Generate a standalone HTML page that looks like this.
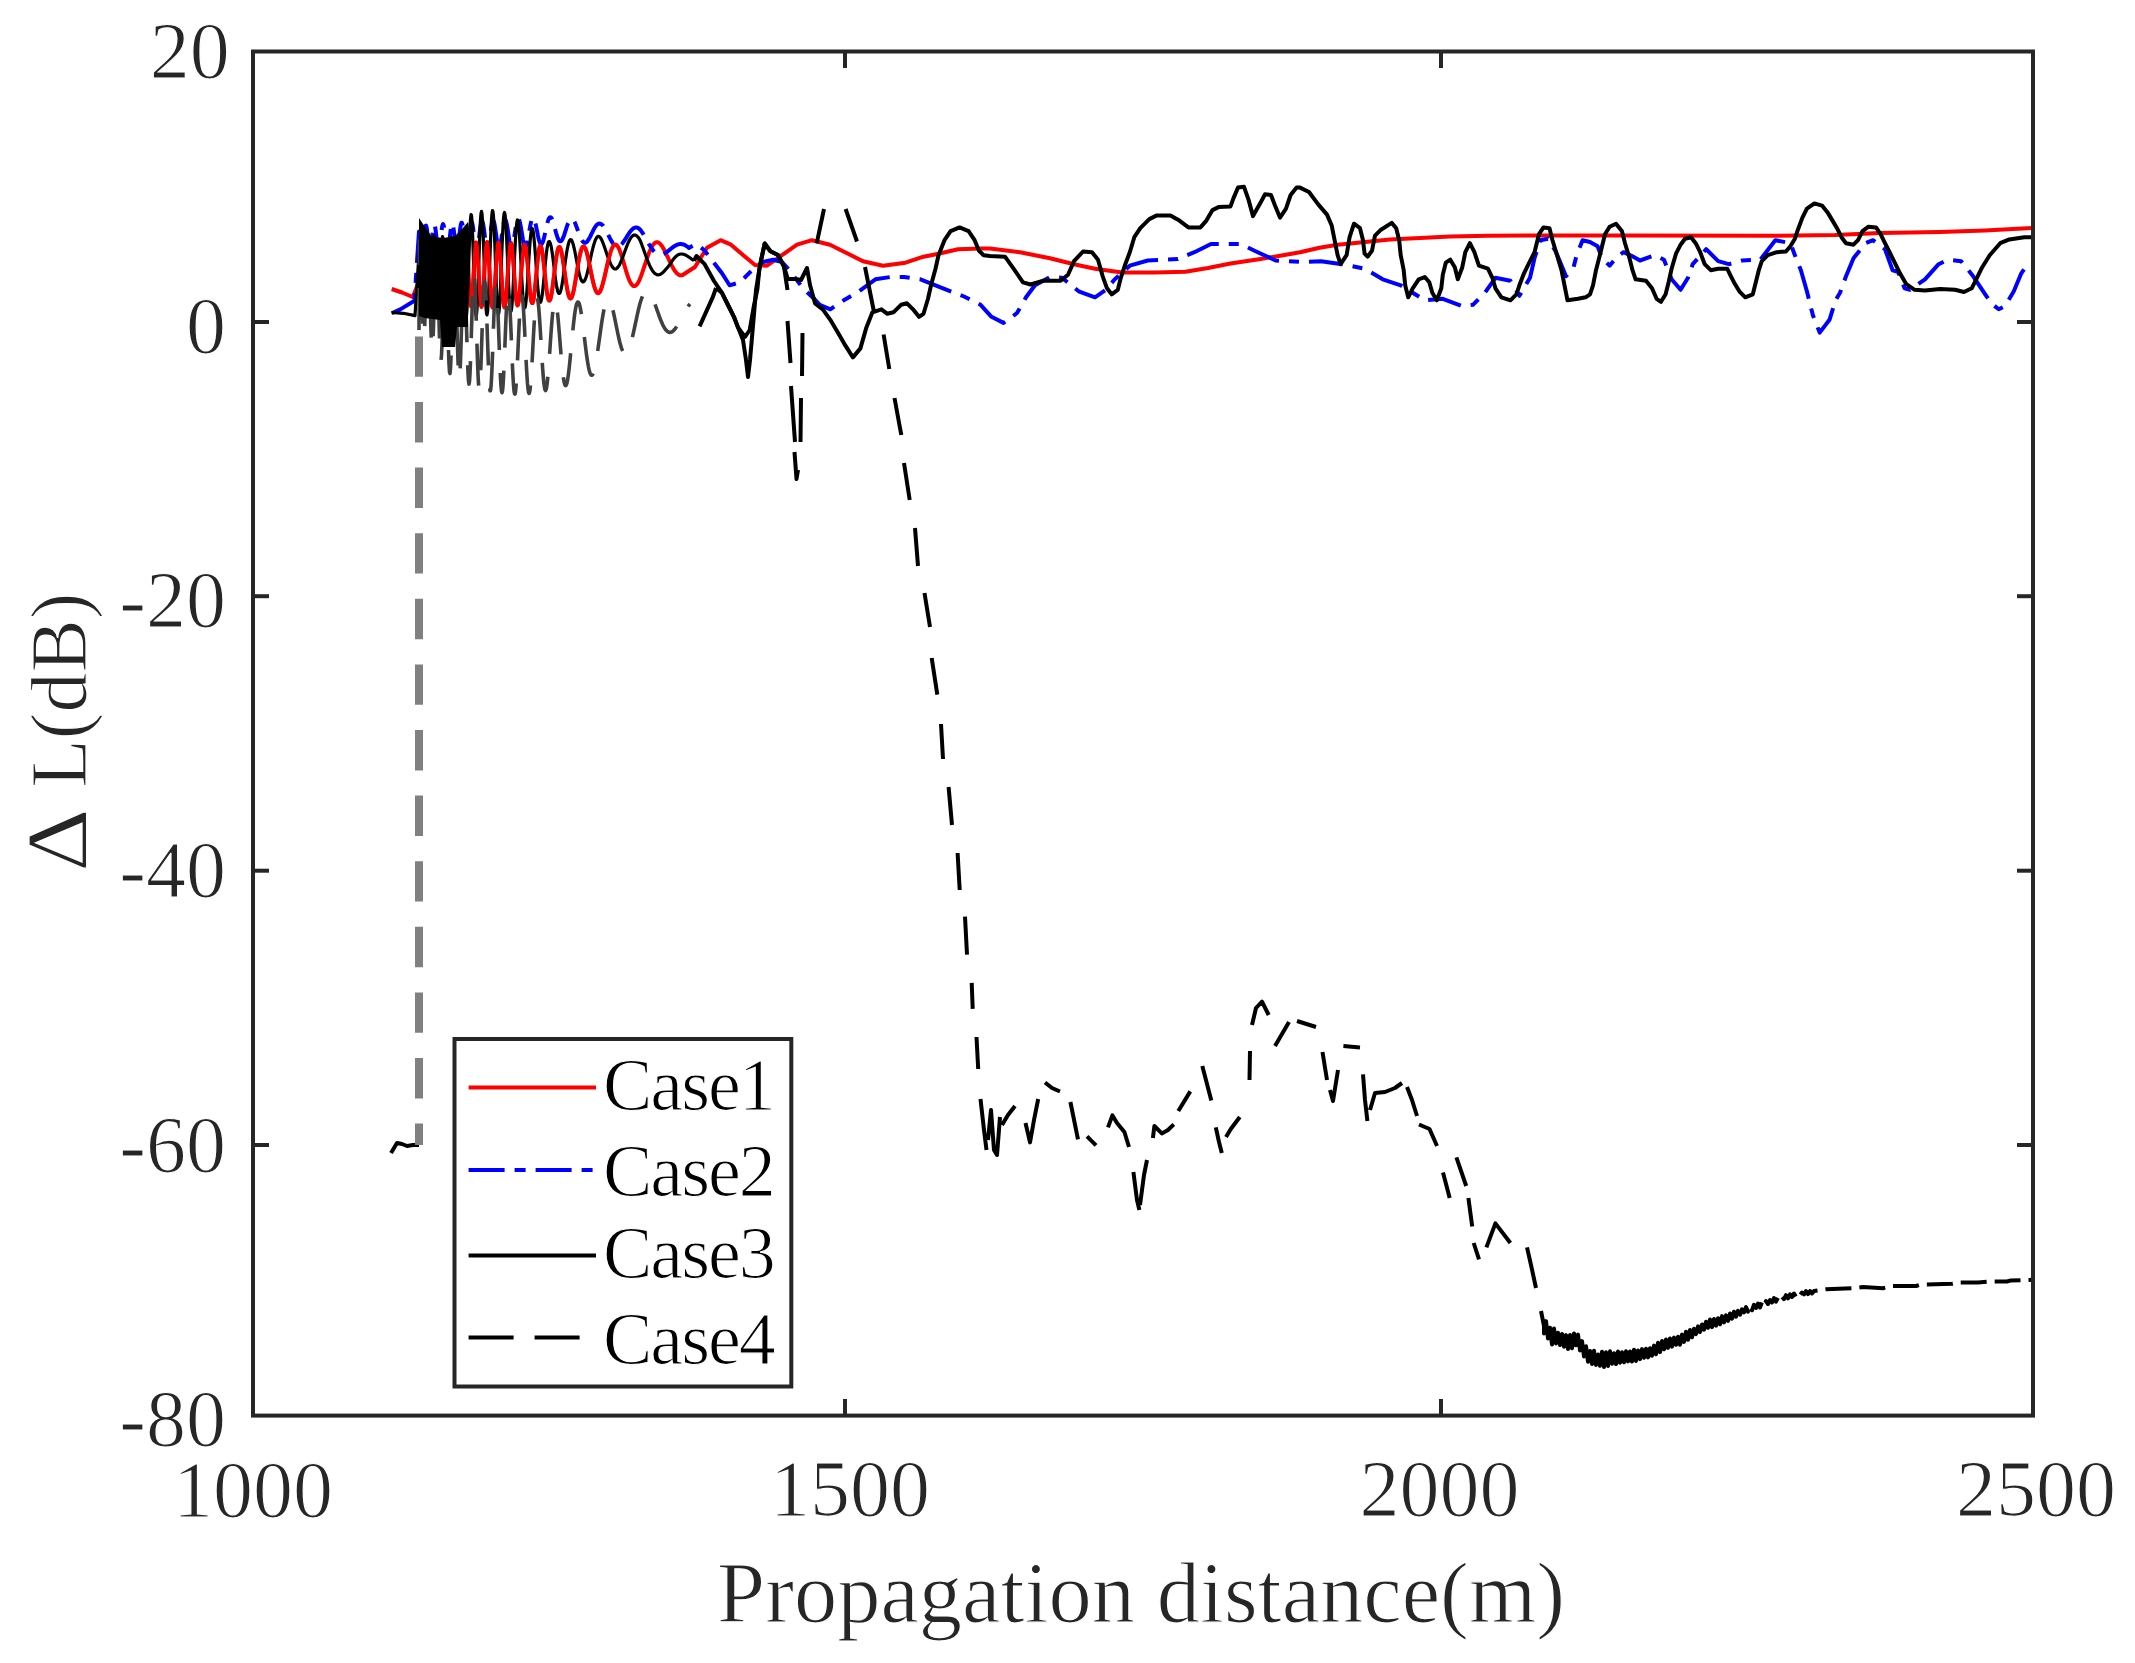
<!DOCTYPE html>
<html><head><meta charset="utf-8"><style>
html,body{margin:0;padding:0;background:#fff;}
body{width:2135px;height:1663px;overflow:hidden;}
svg{display:block;}
text{font-family:"Liberation Serif","Times New Roman",serif;fill:#262626;stroke:#fff;stroke-width:1.2px;paint-order:fill stroke;}
.lg text{fill:#000;}
</style></head><body>
<svg width="2135" height="1663" viewBox="0 0 2135 1663">
<rect x="0" y="0" width="2135" height="1663" fill="#fff"/>
<g clip-path="url(#clipax)">
<path d="M391.7 289.0L402.0 292.5L412.8 297.0L419.0 281.4L419.5 269.7L420.0 258.6L420.5 249.7L421.0 244.2L421.5 243.1L422.0 246.4L422.5 253.7L423.0 263.8L423.5 275.3L424.0 286.4L424.5 295.6L425.0 301.5L425.5 303.4L426.0 300.9L426.5 294.5L427.0 285.1L427.5 274.0L428.0 262.8L428.5 253.1L429.0 246.2L429.5 243.0L430.0 244.0L430.5 249.1L431.0 257.4L431.5 267.9L432.0 279.1L432.5 289.5L433.0 297.8L433.5 302.7L434.0 303.8L434.5 300.9L435.0 294.3L435.5 285.0L436.0 274.2L436.5 263.3L437.0 253.7L437.5 246.7L438.0 243.1L438.5 243.4L439.0 247.5L439.5 254.9L440.0 264.6L440.5 275.5L441.0 286.1L441.5 295.1L442.0 301.4L442.5 304.3L443.0 303.5L443.5 298.9L444.0 291.4L444.5 281.6L445.0 270.9L445.5 260.6L446.0 251.8L446.5 245.6L447.0 242.8L447.5 243.6L448.0 247.9L448.5 255.3L449.0 264.8L449.5 275.3L450.0 285.7L450.5 294.6L451.0 301.2L451.5 304.6L452.0 304.5L452.5 301.0L453.0 294.4L453.5 285.5L454.0 275.3L454.5 265.0L455.0 255.6L455.5 248.3L456.0 243.8L456.5 242.6L457.0 244.8L457.5 250.2L458.0 258.1L458.5 267.8L459.0 278.1L459.5 287.9L460.0 296.3L460.5 302.3L461.0 305.3L461.5 305.0L462.0 301.5L462.5 295.2L463.0 286.6L463.5 276.7L464.0 266.6L464.5 257.3L465.0 249.7L465.5 244.6L466.0 242.5L466.5 243.5L467.0 247.7L467.5 254.5L468.0 263.3L468.5 273.2L469.0 283.1L469.5 292.2L470.0 299.5L470.5 304.3L471.0 306.2L471.5 305.0L472.0 300.9L472.5 294.2L473.0 285.7L473.5 276.1L474.0 266.4L474.5 257.5L475.0 250.1L475.5 244.9L476.0 242.5L476.5 242.9L477.0 246.2L477.5 252.0L478.0 259.8L478.5 268.8L479.0 278.3L479.5 287.5L480.0 295.6L480.5 301.8L481.0 305.6L481.5 306.9L482.0 305.3L482.5 301.2L483.0 294.9L483.5 286.9L484.0 277.9L484.5 268.7L485.0 259.9L485.5 252.4L486.0 246.7L486.5 243.2L487.0 242.2L487.5 243.8L488.0 247.8L488.5 253.9L489.0 261.6L489.5 270.3L490.0 279.4L490.5 288.0L491.0 295.7L491.5 301.7L492.0 305.8L492.5 307.5L493.0 306.8L493.5 303.7L494.0 298.5L494.5 291.7L495.0 283.6L495.5 274.9L496.0 266.2L496.5 258.1L497.0 251.3L497.5 246.1L498.0 242.9L498.5 242.0L499.0 243.4L499.5 246.9L500.0 252.4L500.5 259.4L501.0 267.4L501.5 275.8L502.0 284.1L502.5 291.8L503.0 298.3L503.5 303.2L504.0 306.3L504.5 307.3L505.0 306.3L505.5 303.4L506.0 298.7L506.5 292.5L507.0 285.3L507.5 277.6L508.0 269.7L508.5 262.2L509.0 255.5L509.5 250.0L510.0 245.9L510.5 243.6L511.0 243.0L511.5 244.3L512.0 247.3L512.5 251.8L513.0 257.5L513.5 264.2L514.0 271.3L514.5 278.6L515.0 285.6L515.5 292.0L516.0 297.4L516.5 301.5L517.0 304.2L517.5 305.4L518.0 304.9L518.5 302.8L519.0 299.3L519.5 294.6L520.0 288.9L520.5 282.6L521.0 275.8L521.5 269.1L522.0 262.7L522.5 256.9L523.0 252.0L523.5 248.1L524.0 245.6L524.5 244.4L525.0 244.5L525.5 246.0L526.0 248.8L526.5 252.7L527.0 257.5L527.5 262.9L528.0 268.9L528.5 275.0L529.0 281.0L529.5 286.6L530.0 291.8L530.5 296.1L531.0 299.5L531.5 301.8L532.0 303.0L532.5 303.1L533.0 302.0L533.5 299.8L534.0 296.6L534.5 292.6L535.0 287.9L535.5 282.7L536.0 277.3L536.5 271.8L537.0 266.3L537.5 261.3L538.0 256.7L538.5 252.7L539.0 249.6L539.5 247.3L540.0 246.0L540.5 245.7L541.0 246.3L541.5 247.9L542.0 250.3L542.5 253.5L543.0 257.2L543.5 261.5L544.0 266.1L544.5 270.9L545.0 275.8L545.5 280.5L546.0 285.0L546.5 289.1L547.0 292.7L547.5 295.7L548.0 298.0L548.5 299.6L549.0 300.5L549.5 300.6L550.0 300.0L550.5 298.7L551.0 296.7L551.5 294.1L552.0 291.0L552.5 287.5L553.0 283.6L553.5 279.5L554.0 275.3L554.5 271.1L555.0 267.0L555.5 263.0L556.0 259.4L556.5 256.1L557.0 253.2L557.5 250.8L558.0 249.0L558.5 247.7L559.0 247.1L559.5 247.0L560.0 247.5L560.5 248.5L561.0 250.1L561.5 252.1L562.0 254.6L562.5 257.5L563.0 260.6L563.5 264.0L564.0 267.5L564.5 271.1L565.0 274.7L565.5 278.3L566.0 281.7L566.5 284.9L567.0 287.9L567.5 290.6L568.0 293.0L568.5 294.9L569.0 296.5L569.5 297.6L570.0 298.3L570.5 298.6L571.0 298.3L571.5 297.7L572.0 296.6L572.5 295.2L573.0 293.4L573.5 291.3L574.0 288.9L574.5 286.2L575.0 283.4L575.5 280.4L576.0 277.4L576.5 274.2L577.0 271.1L577.5 268.0L578.0 265.0L578.5 262.1L579.0 259.4L579.5 256.8L580.0 254.5L580.5 252.5L581.0 250.7L581.5 249.2L582.0 248.1L582.5 247.2L583.0 246.7L583.5 246.5L584.0 246.6L584.5 247.1L585.0 247.8L585.5 248.8L586.0 250.1L586.5 251.6L587.0 253.4L587.5 255.4L588.0 257.5L588.5 259.7L589.0 262.1L589.5 264.6L590.0 267.1L590.5 269.6L591.0 272.1L591.5 274.6L592.0 277.0L592.5 279.3L593.0 281.5L593.5 283.6L594.0 285.5L594.5 287.2L595.0 288.7L595.5 290.0L596.0 291.1L596.5 292.0L597.0 292.6L597.5 293.0L598.0 293.2L598.5 293.1L599.0 292.8L599.5 292.2L600.0 291.5L600.5 290.5L601.0 289.4L601.5 288.0L602.0 286.5L602.5 284.8L603.0 283.0L603.5 281.1L604.0 279.1L604.5 277.0L605.0 274.8L605.5 272.7L606.0 270.4L606.5 268.2L607.0 266.0L607.5 263.8L608.0 261.7L608.5 259.6L609.0 257.7L609.5 255.8L610.0 254.0L610.5 252.4L611.0 250.9L611.5 249.5L612.0 248.3L612.5 247.3L613.0 246.4L613.5 245.7L614.0 245.1L614.5 244.8L615.0 244.6L615.5 244.5L616.0 244.7L616.5 245.0L617.0 245.5L617.5 246.1L618.0 246.8L618.5 247.7L619.0 248.8L619.5 249.9L620.0 251.2L620.5 252.6L621.0 254.0L621.5 255.5L622.0 257.1L622.5 258.8L623.0 260.4L623.5 262.1L624.0 263.9L624.5 265.6L625.0 267.3L625.5 269.0L626.0 270.7L626.5 272.3L627.0 273.9L627.5 275.4L628.0 276.8L628.5 278.2L629.0 279.4L629.5 280.6L630.0 281.7L630.5 282.6L631.0 283.5L631.5 284.2L632.0 284.8L632.5 285.3L633.0 285.7L633.5 286.0L634.0 286.1L634.5 286.1L635.0 285.9L635.5 285.7L636.0 285.3L636.5 284.8L637.0 284.3L637.5 283.6L638.0 282.8L638.5 281.9L639.0 280.9L639.5 279.8L640.0 278.6L640.5 277.4L641.0 276.1L641.5 274.7L642.0 273.3L642.5 271.9L643.0 270.4L643.5 268.9L644.0 267.4L644.5 265.9L645.0 264.3L645.5 262.8L646.0 261.3L646.5 259.8L647.0 258.3L647.5 256.9L648.0 255.5L648.5 254.2L649.0 252.9L649.5 251.6L650.0 250.5L650.5 249.3L651.0 248.3L651.5 247.3L652.0 246.5L652.5 245.6L653.0 244.9L653.5 244.3L654.0 243.7L654.5 243.3L655.0 242.9L655.5 242.6L656.0 242.4L656.5 242.2L657.0 242.2L657.5 242.3L658.0 242.4L658.5 242.6L659.0 242.9L659.5 243.3L660.0 243.7L660.5 244.2L661.0 244.8L661.5 245.5L662.0 246.2L662.5 246.9L663.0 247.7L663.5 248.6L664.0 249.5L664.5 250.5L665.0 251.4L665.5 252.4L666.0 253.5L666.5 254.5L667.0 255.6L667.5 256.6L668.0 257.7L668.5 258.8L669.0 259.9L669.5 260.9L670.0 262.0L670.5 263.0L671.0 264.1L671.5 265.1L672.0 266.0L672.5 266.9L673.0 267.8L673.5 268.7L674.0 269.5L674.5 270.3L675.0 271.0L675.5 271.7L676.0 272.3L676.5 272.9L677.0 273.4L677.5 273.8L678.0 274.2L678.5 274.6L679.0 274.9L679.5 275.1L680.0 275.2L680.5 275.3L681.0 275.3L681.5 275.3L682.0 275.2L682.5 275.1L683.0 274.9L683.0 274.8L695.0 267.0L707.0 247.7L720.6 240.2L731.0 244.7L743.0 255.0L755.0 265.0L767.0 265.7L782.0 255.2L797.0 244.7L812.0 240.2L830.0 244.7L845.0 252.2L863.0 261.2L883.0 265.7L905.5 262.7L923.5 256.7L938.5 253.7L958.0 249.2L980.6 248.5L990.0 248.5L1020.0 252.2L1050.0 258.2L1074.0 264.2L1095.0 268.7L1122.0 272.5L1155.0 272.5L1185.4 271.7L1208.0 268.0L1230.5 263.5L1260.6 259.0L1283.0 255.2L1300.0 252.2L1319.5 247.7L1337.6 244.7L1360.0 242.4L1390.0 239.4L1420.0 238.0L1450.0 236.4L1488.0 235.7L1540.0 235.4L1620.0 235.4L1775.0 235.7L1835.0 235.0L1880.0 233.0L1940.0 232.0L1985.0 230.4L2027.0 228.2L2035.0 228.0" fill="none" stroke="#ff0000" stroke-width="4" stroke-linejoin="round"/>
<path d="M391.7 313.3L400.3 309.4L414.4 300.8L419.0 231.4L419.5 235.7L420.0 240.4L420.5 244.7L421.0 248.0L421.5 249.8L422.0 249.8L422.5 248.1L423.0 244.8L423.5 240.6L424.0 235.9L424.5 231.5L425.0 228.0L425.5 225.9L426.0 225.5L426.5 226.9L427.0 229.7L427.5 233.7L428.0 238.3L428.5 242.7L429.0 246.5L429.5 249.0L430.0 250.0L430.5 249.2L431.0 246.9L431.5 243.3L432.0 238.9L432.5 234.3L433.0 230.1L433.5 226.9L434.0 225.1L434.5 224.9L435.0 226.4L435.5 229.3L436.0 233.3L436.5 237.8L437.0 242.2L437.5 246.0L438.0 248.7L438.5 249.9L439.0 249.6L439.5 247.6L440.0 244.3L440.5 240.2L441.0 235.6L441.5 231.3L442.0 227.6L442.5 225.1L443.0 224.1L443.5 224.7L444.0 226.8L444.5 230.1L445.0 234.2L445.5 238.7L446.0 243.0L446.5 246.6L447.0 249.0L447.5 250.0L448.0 249.4L448.5 247.4L449.0 244.2L449.5 240.1L450.0 235.6L450.5 231.2L451.0 227.5L451.5 224.8L452.0 223.5L452.5 223.7L453.0 225.3L453.5 228.2L454.0 232.1L454.5 236.5L455.0 240.8L455.5 244.8L456.0 247.8L456.5 249.6L457.0 250.0L457.5 248.9L458.0 246.4L458.5 242.9L459.0 238.7L459.5 234.3L460.0 230.0L460.5 226.5L461.0 224.0L461.5 222.7L462.0 222.9L462.5 224.5L463.0 227.4L463.5 231.1L464.0 235.4L464.5 239.8L465.0 243.8L465.5 247.0L466.0 249.2L466.5 250.0L467.0 249.4L467.5 247.5L468.0 244.5L468.5 240.6L469.0 236.3L469.5 231.9L470.0 228.0L470.5 224.8L471.0 222.7L471.5 221.9L472.0 222.4L472.5 224.3L473.0 227.2L473.5 230.9L474.0 235.0L474.5 239.2L475.0 243.1L475.5 246.3L476.0 248.5L476.5 249.5L477.0 249.3L477.5 247.8L478.0 245.3L478.5 241.9L479.0 237.9L479.5 233.7L480.0 229.7L480.5 226.2L481.0 223.5L481.5 221.8L482.0 221.2L482.5 221.8L483.0 223.5L483.5 226.2L484.0 229.6L484.5 233.4L485.0 237.4L485.5 241.1L486.0 244.4L486.5 246.8L487.0 248.4L487.5 248.8L488.0 248.2L488.5 246.5L489.0 243.9L489.5 240.6L490.0 236.9L490.5 233.0L491.0 229.2L491.5 225.9L492.0 223.2L492.5 221.4L493.0 220.5L493.5 220.7L494.0 221.9L494.5 224.0L495.0 226.8L495.5 230.2L496.0 233.8L496.5 237.5L497.0 240.9L497.5 243.9L498.0 246.2L498.5 247.6L499.0 248.1L499.5 247.6L500.0 246.2L500.5 243.9L501.0 241.0L501.5 237.7L502.0 234.1L502.5 230.5L503.0 227.1L503.5 224.2L504.0 221.9L504.5 220.4L505.0 219.7L505.5 219.9L506.0 220.9L506.5 222.8L507.0 225.2L507.5 228.2L508.0 231.5L508.5 234.9L509.0 238.2L509.5 241.2L510.0 243.7L510.5 245.6L511.0 246.8L511.5 247.2L512.0 246.9L512.5 245.7L513.0 243.9L513.5 241.5L514.0 238.6L514.5 235.4L515.0 232.1L515.5 228.9L516.0 225.9L516.5 223.3L517.0 221.2L517.5 219.7L518.0 218.9L518.5 218.8L519.0 219.5L519.5 220.8L520.0 222.7L520.5 225.1L521.0 227.8L521.5 230.8L522.0 233.9L522.5 236.8L523.0 239.6L523.5 242.0L524.0 243.9L524.5 245.3L525.0 246.1L525.5 246.3L526.0 245.8L526.5 244.8L527.0 243.2L527.5 241.1L528.0 238.6L528.5 235.9L529.0 233.0L529.5 230.1L530.0 227.3L530.5 224.7L531.0 222.4L531.5 220.5L532.0 219.1L532.5 218.2L533.0 217.9L533.5 218.1L534.0 218.8L534.5 220.0L535.0 221.6L535.5 223.6L536.0 225.9L536.5 228.3L537.0 230.9L537.5 233.4L538.0 235.9L538.5 238.1L539.0 240.1L539.5 241.7L540.0 243.0L540.5 243.8L541.0 244.2L541.5 244.1L542.0 243.6L542.5 242.7L543.0 241.4L543.5 239.7L544.0 237.8L544.5 235.7L545.0 233.4L545.5 231.1L546.0 228.8L546.5 226.5L547.0 224.4L547.5 222.5L548.0 220.8L548.5 219.4L549.0 218.3L549.5 217.6L550.0 217.2L550.5 217.2L551.0 217.5L551.5 218.1L552.0 219.0L552.5 220.2L553.0 221.6L553.5 223.3L554.0 225.0L554.5 226.9L555.0 228.8L555.5 230.7L556.0 232.6L556.5 234.3L557.0 235.9L557.5 237.4L558.0 238.7L558.5 239.7L559.0 240.5L559.5 241.0L560.0 241.2L560.5 241.3L561.0 241.1L561.5 240.7L562.0 240.0L562.5 239.1L563.0 238.1L563.5 236.8L564.0 235.5L564.5 234.0L565.0 232.4L565.5 230.8L566.0 229.3L566.5 227.7L567.0 226.2L567.5 224.8L568.0 223.4L568.5 222.3L569.0 221.2L569.5 220.3L570.0 219.7L570.5 219.2L571.0 218.9L571.5 218.7L572.0 218.8L572.5 219.1L573.0 219.5L573.5 220.2L574.0 221.0L574.5 221.9L575.0 222.9L575.5 224.1L576.0 225.4L576.5 226.7L577.0 228.1L577.5 229.5L578.0 230.9L578.5 232.3L579.0 233.7L579.5 235.0L580.0 236.3L580.5 237.4L581.0 238.5L581.5 239.5L582.0 240.4L582.5 241.1L583.0 241.7L583.5 242.2L584.0 242.5L584.5 242.7L585.0 242.8L585.5 242.7L586.0 242.5L586.5 242.1L587.0 241.7L587.5 241.1L588.0 240.4L588.5 239.7L589.0 238.8L589.5 237.9L590.0 237.0L590.5 236.0L591.0 235.0L591.5 233.9L592.0 232.9L592.5 231.9L593.0 230.8L593.5 229.9L594.0 228.9L594.5 228.0L595.0 227.2L595.5 226.5L596.0 225.8L596.5 225.2L597.0 224.7L597.5 224.3L598.0 224.0L598.5 223.7L599.0 223.6L599.5 223.6L600.0 223.7L600.5 223.8L601.0 224.0L601.5 224.3L602.0 224.7L602.5 225.2L603.0 225.7L603.5 226.4L604.0 227.1L604.5 227.8L605.0 228.7L605.5 229.5L606.0 230.5L606.5 231.4L607.0 232.4L607.5 233.4L608.0 234.4L608.5 235.4L609.0 236.4L609.5 237.4L610.0 238.4L610.5 239.3L611.0 240.2L611.5 241.1L612.0 241.9L612.5 242.7L613.0 243.4L613.5 244.0L614.0 244.6L614.5 245.1L615.0 245.5L615.5 245.9L616.0 246.2L616.5 246.4L617.0 246.5L617.5 246.5L618.0 246.5L618.5 246.4L619.0 246.2L619.5 245.9L620.0 245.6L620.5 245.2L621.0 244.8L621.5 244.3L622.0 243.8L622.5 243.2L623.0 242.5L623.5 241.9L624.0 241.2L624.5 240.4L625.0 239.6L625.5 238.9L626.0 238.1L626.5 237.3L627.0 236.4L627.5 235.6L628.0 234.9L628.5 234.1L629.0 233.3L629.5 232.6L630.0 231.9L630.5 231.3L631.0 230.6L631.5 230.1L632.0 229.5L632.5 229.1L633.0 228.7L633.5 228.3L634.0 228.0L634.5 227.8L635.0 227.6L635.5 227.5L636.0 227.5L636.5 227.5L637.0 227.6L637.5 227.7L638.0 227.9L638.5 228.2L639.0 228.6L639.5 229.0L640.0 229.5L640.5 230.0L641.0 230.7L641.5 231.4L642.0 232.1L642.5 232.8L643.0 233.6L643.5 234.4L644.0 235.3L644.5 236.1L645.0 237.0L645.5 237.9L646.0 238.8L646.5 239.7L647.0 240.6L647.5 241.5L648.0 242.4L648.5 243.3L649.0 244.2L649.5 245.0L650.0 245.8L650.5 246.6L651.0 247.4L651.5 248.1L652.0 248.8L652.5 249.5L653.0 250.1L653.5 250.7L654.0 251.3L654.5 251.8L655.0 252.2L655.5 252.7L656.0 253.0L656.5 253.3L657.0 253.6L657.5 253.8L658.0 254.0L658.5 254.2L659.0 254.2L659.5 254.3L660.0 254.3L660.5 254.3L661.0 254.3L661.5 254.3L662.0 254.2L662.5 254.1L663.0 254.0L663.5 253.8L664.0 253.6L664.5 253.4L665.0 253.1L665.5 252.8L666.0 252.5L666.5 252.2L667.0 251.8L667.5 251.5L668.0 251.1L668.5 250.7L669.0 250.3L669.5 249.9L670.0 249.5L670.5 249.1L671.0 248.7L671.5 248.3L672.0 247.9L672.5 247.5L673.0 247.2L673.5 246.8L674.0 246.5L674.5 246.1L675.0 245.8L675.5 245.6L676.0 245.3L676.5 245.0L677.0 244.8L677.5 244.6L678.0 244.5L678.5 244.3L679.0 244.2L679.5 244.1L680.0 244.1L680.5 244.0L681.0 244.1L681.5 244.1L682.0 244.2L682.5 244.2L683.0 244.4L683.5 244.5L684.0 244.7L684.5 244.9L685.0 245.2L685.5 245.4L686.0 245.7L686.5 246.1L687.0 246.4L687.5 246.8L688.0 247.2L688.5 247.6L689.0 248.0L689.0 247.7L696.5 244.0L704.0 250.0L711.6 259.7L722.0 273.3L729.6 285.3L740.0 282.3L753.6 268.7L763.0 262.0L773.2 259.7L782.0 262.0L788.0 268.7L794.0 276.3L803.0 288.3L814.7 299.3L819.8 304.8L830.3 309.3L843.8 300.3L858.9 291.3L875.4 279.3L890.4 277.0L904.0 277.0L920.5 279.3L935.5 285.3L950.6 291.3L964.0 296.5L980.6 304.8L991.5 316.8L1003.5 322.9L1017.0 313.0L1026.0 297.3L1035.0 285.3L1050.0 277.0L1062.0 277.8L1078.7 291.3L1095.0 297.3L1105.7 289.8L1114.8 279.3L1129.8 265.7L1147.8 260.5L1177.9 259.0L1194.4 252.2L1211.0 244.0L1241.0 244.0L1254.5 250.7L1275.6 260.5L1302.6 262.0L1321.0 261.2L1342.0 264.2L1364.6 268.7L1382.7 279.3L1400.7 285.3L1412.7 292.8L1424.8 300.3L1442.8 298.8L1462.3 306.3L1472.9 304.8L1484.9 292.8L1495.4 277.8L1510.4 280.8L1519.4 295.8L1530.0 277.8L1534.5 258.2L1540.5 240.2L1548.0 238.7L1556.0 252.0L1566.0 276.3L1573.6 267.2L1576.6 255.2L1582.6 240.2L1590.0 242.0L1597.6 246.2L1602.0 258.2L1609.6 265.7L1616.0 258.0L1623.5 252.2L1632.0 256.0L1640.0 260.5L1655.0 255.2L1664.0 259.7L1671.6 279.3L1680.6 289.8L1688.0 277.8L1692.7 264.2L1706.2 249.2L1718.2 261.2L1728.7 264.2L1742.3 260.5L1760.3 259.7L1775.3 240.2L1790.4 243.2L1794.9 255.2L1800.9 270.2L1806.9 291.3L1812.9 315.3L1819.7 332.6L1829.5 319.8L1835.5 300.3L1840.0 292.8L1846.0 276.3L1853.5 258.2L1865.5 243.2L1873.0 240.2L1885.0 249.2L1892.6 270.2L1898.0 271.7L1904.6 288.3L1910.0 289.8L1925.0 279.3L1938.6 264.2L1947.6 259.7L1961.2 261.2L1973.2 276.3L1985.2 294.3L1991.2 303.3L1998.7 309.3L2004.8 306.3L2013.8 291.3L2021.3 273.3L2026.5 265.7L2035.0 262.0" fill="none" stroke="#0000ff" stroke-width="4" stroke-linejoin="round" stroke-dasharray="34 10 10 10"/>
<path d="M391.7 312.5L403.4 313.3L415.0 315.6L419.0 253.3L419.5 272.9L420.0 291.1L420.5 305.3L421.0 313.7L421.5 315.4L422.0 310.4L422.5 299.8L423.0 285.6L423.5 270.0L424.0 255.4L424.5 244.1L425.0 237.4L425.5 235.1L426.0 238.4L426.5 246.9L427.0 259.5L427.5 274.2L428.0 289.0L428.5 301.9L429.0 311.0L429.5 315.2L430.0 313.9L430.5 307.3L431.0 296.4L431.5 282.7L432.0 268.0L432.5 254.4L433.0 243.7L433.5 237.2L434.0 235.9L434.5 239.8L435.0 248.5L435.5 260.7L436.0 274.9L436.5 289.2L437.0 301.7L437.5 310.9L438.0 315.6L438.5 315.2L439.0 309.9L439.5 300.4L440.0 287.8L440.5 273.7L441.0 260.1L441.5 248.4L442.0 240.3L442.5 236.6L443.0 237.8L443.5 243.7L444.0 253.6L444.5 266.2L445.0 280.1L445.5 293.5L446.0 304.9L446.5 312.9L447.0 316.6L447.5 315.6L448.0 310.0L448.5 300.6L449.0 288.5L449.5 275.0L450.0 261.8L450.5 250.3L451.0 242.0L451.5 237.7L452.0 237.8L452.5 242.4L453.0 251.0L453.5 262.4L454.0 275.5L454.5 288.8L455.0 300.8L455.5 310.2L456.0 315.9L456.5 317.5L457.0 314.7L457.5 307.9L458.0 297.8L458.5 285.6L459.0 272.6L459.5 260.1L460.0 249.6L460.5 242.0L461.0 238.3L461.5 238.7L462.0 243.2L462.5 250.2L463.0 260.3L463.5 272.4L464.0 285.2L464.5 297.3L465.0 307.4L465.5 314.3L466.0 317.1L466.5 315.5L467.0 309.3L467.5 299.1L468.0 285.8L468.5 270.5L469.0 254.7L469.5 239.9L470.0 227.6L470.5 218.9L471.0 214.6L471.5 215.3L472.0 220.8L472.5 231.6L473.0 245.4L473.5 261.0L474.0 276.7L474.5 291.3L475.0 303.2L475.5 311.5L476.0 315.4L476.5 314.7L477.0 309.3L477.5 299.9L478.0 287.3L478.5 272.7L479.0 257.3L479.5 242.4L480.0 229.5L480.5 219.5L481.0 213.3L481.5 211.3L482.0 213.8L482.5 220.4L483.0 230.5L483.5 243.4L484.0 257.8L484.5 272.6L485.0 286.6L485.5 298.7L486.0 307.8L486.5 313.4L487.0 314.9L487.5 312.3L488.0 305.9L488.5 296.1L489.0 283.7L489.5 269.8L490.0 255.4L490.5 241.6L491.0 229.4L491.5 219.7L492.0 213.3L492.5 210.6L493.0 211.7L493.5 216.6L494.0 224.8L494.5 235.8L495.0 248.6L495.5 262.4L496.0 276.1L496.5 288.8L497.0 299.6L497.5 307.8L498.0 312.7L498.5 314.1L499.0 311.9L499.5 306.3L500.0 297.6L500.5 286.6L501.0 274.1L501.5 260.9L502.0 248.0L502.5 236.1L503.0 226.1L503.5 218.6L504.0 214.0L504.5 212.5L505.0 214.2L505.5 219.0L506.0 226.3L506.5 235.9L507.0 247.0L507.5 258.9L508.0 271.0L508.5 282.5L509.0 292.7L509.5 301.0L510.0 307.1L510.5 310.6L511.0 311.3L511.5 309.4L512.0 304.8L512.5 298.1L513.0 289.5L513.5 279.7L514.0 269.1L514.5 258.3L515.0 248.1L515.5 238.8L516.0 231.0L516.5 225.1L517.0 221.3L517.5 219.9L518.0 220.7L518.5 223.9L519.0 229.1L519.5 236.0L520.0 244.3L520.5 253.6L521.0 263.3L521.5 273.0L522.0 282.1L522.5 290.4L523.0 297.3L523.5 302.7L524.0 306.3L524.5 308.0L525.0 307.7L525.5 305.5L526.0 301.6L526.5 296.2L527.0 289.5L527.5 282.0L528.0 273.8L528.5 265.5L529.0 257.3L529.5 249.7L530.0 242.8L530.5 237.2L531.0 232.8L531.5 229.9L532.0 228.6L532.5 228.8L533.0 230.6L533.5 233.7L534.0 238.1L534.5 243.5L535.0 249.7L535.5 256.5L536.0 263.6L536.5 270.6L537.0 277.4L537.5 283.8L538.0 289.4L538.5 294.2L539.0 297.9L539.5 300.5L540.0 301.9L540.5 302.2L541.0 301.3L541.5 299.2L542.0 296.3L542.5 292.5L543.0 288.0L543.5 283.0L544.0 277.7L544.5 272.3L545.0 266.9L545.5 261.7L546.0 256.8L546.5 252.5L547.0 248.8L547.5 245.8L548.0 243.5L548.5 242.1L549.0 241.5L549.5 241.6L550.0 242.6L550.5 243.9L551.0 245.8L551.5 248.3L552.0 251.4L552.5 254.9L553.0 258.7L553.5 262.8L554.0 266.9L554.5 271.0L555.0 275.1L555.5 278.9L556.0 282.4L556.5 285.5L557.0 288.2L557.5 290.4L558.0 292.0L558.5 293.1L559.0 293.5L559.5 293.4L560.0 292.7L560.5 291.4L561.0 289.6L561.5 287.4L562.0 284.7L562.5 281.7L563.0 278.4L563.5 275.0L564.0 271.3L564.5 267.6L565.0 264.0L565.5 260.4L566.0 256.9L566.5 253.6L567.0 250.6L567.5 247.9L568.0 245.5L568.5 243.5L569.0 241.9L569.5 240.7L570.0 240.0L570.5 239.6L571.0 239.7L571.5 240.1L572.0 241.0L572.5 242.2L573.0 243.7L573.5 245.5L574.0 247.6L574.5 249.8L575.0 252.3L575.5 254.8L576.0 257.5L576.5 260.2L577.0 262.8L577.5 265.4L578.0 268.0L578.5 270.4L579.0 272.6L579.5 274.6L580.0 276.5L580.5 278.1L581.0 279.4L581.5 280.5L582.0 281.2L582.5 281.7L583.0 281.9L583.5 281.8L584.0 281.4L584.5 280.8L585.0 279.9L585.5 278.7L586.0 277.3L586.5 275.7L587.0 274.0L587.5 272.0L588.0 270.0L588.5 267.8L589.0 265.5L589.5 263.2L590.0 260.8L590.5 258.5L591.0 256.2L591.5 253.9L592.0 251.7L592.5 249.6L593.0 247.5L593.5 245.7L594.0 243.9L594.5 242.4L595.0 240.9L595.5 239.7L596.0 238.7L596.5 237.8L597.0 237.2L597.5 236.7L598.0 236.4L598.5 236.4L599.0 236.5L599.5 236.8L600.0 237.2L600.5 237.8L601.0 238.6L601.5 239.5L602.0 240.6L602.5 241.7L603.0 243.0L603.5 244.3L604.0 245.7L604.5 247.1L605.0 248.6L605.5 250.1L606.0 251.6L606.5 253.1L607.0 254.6L607.5 256.0L608.0 257.4L608.5 258.7L609.0 260.0L609.5 261.1L610.0 262.2L610.5 263.4L611.0 264.5L611.5 265.5L612.0 266.3L612.5 267.1L613.0 267.7L613.5 268.2L614.0 268.6L614.5 268.9L615.0 269.0L615.5 269.0L616.0 268.9L616.5 268.6L617.0 268.2L617.5 267.7L618.0 267.1L618.5 266.4L619.0 265.6L619.5 264.7L620.0 263.7L620.5 262.6L621.0 261.5L621.5 260.3L622.0 259.0L622.5 257.7L623.0 256.4L623.5 255.1L624.0 253.7L624.5 252.3L625.0 250.9L625.5 249.6L626.0 248.2L626.5 246.9L627.0 245.6L627.5 244.4L628.0 243.2L628.5 242.1L629.0 241.0L629.5 240.1L630.0 239.1L630.5 238.3L631.0 237.6L631.5 236.9L632.0 236.4L632.5 235.9L633.0 235.5L633.5 235.3L634.0 235.1L634.5 235.0L635.0 235.0L635.5 235.1L636.0 235.4L636.5 235.7L637.0 236.1L637.5 236.6L638.0 237.1L638.5 237.8L639.0 238.5L639.5 239.3L640.0 240.2L640.5 241.3L641.0 242.6L641.5 243.9L642.0 245.2L642.5 246.6L643.0 247.9L643.5 249.3L644.0 250.7L644.5 252.1L645.0 253.5L645.5 254.9L646.0 256.3L646.5 257.6L647.0 259.0L647.5 260.3L648.0 261.5L648.5 262.8L649.0 263.9L649.5 265.1L650.0 266.1L650.5 267.2L651.0 268.1L651.5 269.0L652.0 269.9L652.5 270.7L653.0 271.4L653.5 272.0L654.0 272.6L654.5 273.1L655.0 273.6L655.5 273.9L656.0 274.2L656.5 274.5L657.0 274.7L657.5 274.8L658.0 274.8L658.5 274.8L659.0 274.7L659.5 274.6L660.0 274.4L660.5 274.2L661.0 273.9L661.5 273.6L662.0 273.2L662.5 272.8L663.0 272.4L663.5 271.9L664.0 271.4L664.5 270.9L665.0 270.3L665.5 269.7L666.0 269.2L666.5 268.6L667.0 268.0L667.5 267.4L668.0 266.8L668.5 266.2L669.0 265.6L669.5 265.0L670.0 264.4L670.5 263.6L671.0 262.7L671.5 261.9L672.0 261.2L672.5 260.4L673.0 259.7L673.5 259.1L674.0 258.4L674.5 257.8L675.0 257.3L675.5 256.8L676.0 256.3L676.5 255.9L677.0 255.5L677.5 255.2L678.0 254.9L678.5 254.6L679.0 254.4L679.5 254.2L680.0 254.1L680.5 254.0L681.0 254.0L681.5 254.0L682.0 254.0L682.5 254.1L683.0 254.2L683.5 254.3L684.0 254.4L684.5 254.6L685.0 254.8L685.5 255.1L686.0 255.3L686.5 255.6L687.0 255.9L687.5 256.2L688.0 256.5L688.5 256.8L689.0 257.2L689.5 257.5L690.0 257.9L690.5 258.2L691.0 258.6L691.5 259.0L692.0 259.3L692.5 259.7L693.0 260.0L693.5 260.3L694.0 260.7" fill="none" stroke="#000000" stroke-width="3.2" stroke-linejoin="round"/>
<path d="M694.0 260.7L696.5 256.0L704.4 263.8L714.0 281.0L721.8 292.7L728.5 306.0L734.3 317.7L738.0 327.4L745.0 337.0L749.7 330.0L753.5 308.0L757.4 289.0L759.3 269.6L761.0 260.0L764.7 243.5L770.4 251.2L778.0 255.0L784.0 266.6L787.8 279.0L795.5 279.0L801.0 280.0L807.0 268.0L810.0 285.0L815.0 303.3L822.8 309.3L830.3 319.8L839.3 334.9L845.3 345.4L852.9 357.4L860.4 348.4L866.4 327.4L872.4 312.3L881.4 309.3L887.4 313.8L893.4 312.3L901.0 304.8L907.0 303.3L913.0 309.3L919.0 316.8L923.5 313.8L928.0 298.8L931.0 285.3L935.5 268.7L938.5 255.2L944.5 240.2L950.6 231.2L959.6 227.4L968.6 231.2L974.6 240.2L979.0 250.7L983.6 255.2L990.0 256.0L1005.0 256.7L1012.5 267.2L1023.0 282.3L1030.6 284.5L1042.6 280.8L1060.6 280.8L1068.0 274.8L1074.0 261.2L1083.0 251.5L1092.0 252.2L1098.0 259.7L1102.7 276.3L1107.0 288.3L1111.7 294.3L1117.8 289.8L1120.8 277.8L1125.3 264.2L1129.8 252.2L1134.3 237.2L1140.3 228.2L1149.3 219.1L1156.8 215.4L1170.4 215.4L1179.4 220.6L1188.4 227.4L1200.4 227.4L1206.4 220.6L1212.5 210.1L1218.5 207.1L1230.5 206.4L1233.5 198.1L1238.0 187.6L1244.0 186.8L1248.5 199.6L1253.0 216.1L1260.6 202.6L1265.0 194.3L1271.0 195.0L1275.6 207.1L1280.0 217.6L1286.0 208.6L1290.6 195.0L1296.6 187.6L1300.0 187.6L1309.0 192.0L1318.0 204.1L1327.0 214.6L1331.6 225.2L1334.6 240.2L1337.6 255.2L1340.6 264.2L1346.6 255.2L1349.6 237.2L1354.0 223.7L1360.0 228.2L1363.0 240.2L1364.6 253.7L1367.6 256.7L1372.0 250.7L1375.0 235.7L1381.0 229.7L1391.7 222.9L1396.2 228.2L1399.2 240.2L1400.7 255.2L1403.7 270.2L1405.2 285.3L1408.2 297.3L1412.7 288.3L1418.7 279.3L1424.8 277.0L1429.3 282.3L1432.3 292.8L1436.8 300.3L1441.3 288.3L1442.8 274.8L1445.8 262.7L1450.3 259.7L1454.8 267.2L1457.8 279.3L1462.3 267.2L1465.3 252.2L1469.9 243.2L1474.4 252.2L1478.9 265.7L1487.9 268.7L1492.4 277.8L1495.4 288.3L1501.4 297.3L1510.4 300.3L1516.4 294.3L1519.4 285.3L1524.0 273.3L1528.5 264.2L1534.5 252.2L1539.0 234.2L1543.5 227.4L1549.5 228.2L1552.5 240.2L1557.0 255.2L1561.5 270.2L1564.5 285.3L1567.5 300.3L1578.0 298.8L1585.6 297.3L1590.0 294.3L1593.0 285.3L1596.0 270.2L1600.6 252.2L1605.0 234.2L1609.6 226.7L1616.0 223.7L1622.0 231.2L1625.0 243.2L1629.5 258.2L1632.5 270.2L1635.6 279.3L1646.0 280.8L1652.0 288.3L1656.6 298.8L1661.0 301.8L1665.6 294.3L1668.6 282.3L1671.6 268.7L1676.0 253.7L1680.6 244.7L1685.0 238.7L1691.0 237.2L1695.7 243.2L1700.2 252.2L1704.7 264.2L1710.7 270.2L1718.2 268.7L1727.2 268.7L1730.2 274.8L1734.8 283.8L1739.3 291.3L1745.3 297.3L1752.8 294.3L1755.8 282.3L1758.8 270.2L1761.8 261.2L1767.8 255.2L1776.8 252.2L1785.9 251.5L1790.4 246.2L1794.9 238.7L1797.9 229.7L1802.4 217.6L1806.9 208.6L1814.4 203.4L1822.0 205.6L1828.0 213.1L1832.5 220.6L1837.0 228.2L1841.5 237.2L1846.0 243.2L1853.5 244.7L1858.0 240.2L1862.5 231.2L1868.5 226.7L1876.0 227.4L1880.6 234.2L1885.0 243.2L1889.6 252.2L1894.0 261.2L1900.0 273.3L1906.0 283.8L1914.6 289.8L1925.0 290.5L1940.0 289.0L1955.0 289.8L1964.0 292.0L1971.7 288.3L1976.2 279.3L1982.2 267.2L1989.7 255.2L2000.2 243.2L2009.3 239.4L2024.3 237.2L2035.0 237.2" fill="none" stroke="#000000" stroke-width="4" stroke-linejoin="round"/>
<path d="M472.0 300.9L472.5 294.2L473.0 285.7L473.5 276.1L474.0 266.4L474.5 257.5L475.0 250.1L475.5 244.9L476.0 242.5L476.5 242.9L477.0 246.2L477.5 252.0L478.0 259.8L478.5 268.8L479.0 278.3L479.5 287.5L480.0 295.6L480.5 301.8L481.0 305.6L481.5 306.9L482.0 305.3L482.5 301.2L483.0 294.9L483.5 286.9L484.0 277.9L484.5 268.7L485.0 259.9L485.5 252.4L486.0 246.7L486.5 243.2L487.0 242.2L487.5 243.8L488.0 247.8L488.5 253.9L489.0 261.6L489.5 270.3L490.0 279.4L490.5 288.0L491.0 295.7L491.5 301.7L492.0 305.8L492.5 307.5L493.0 306.8L493.5 303.7L494.0 298.5L494.5 291.7L495.0 283.6L495.5 274.9L496.0 266.2L496.5 258.1L497.0 251.3L497.5 246.1L498.0 242.9L498.5 242.0L499.0 243.4L499.5 246.9L500.0 252.4L500.5 259.4L501.0 267.4L501.5 275.8L502.0 284.1L502.5 291.8L503.0 298.3L503.5 303.2L504.0 306.3L504.5 307.3L505.0 306.3L505.5 303.4L506.0 298.7L506.5 292.5L507.0 285.3L507.5 277.6L508.0 269.7L508.5 262.2L509.0 255.5L509.5 250.0L510.0 245.9L510.5 243.6L511.0 243.0L511.5 244.3L512.0 247.3L512.5 251.8L513.0 257.5L513.5 264.2L514.0 271.3L514.5 278.6L515.0 285.6L515.5 292.0L516.0 297.4L516.5 301.5L517.0 304.2L517.5 305.4L518.0 304.9L518.5 302.8L519.0 299.3L519.5 294.6L520.0 288.9L520.5 282.6L521.0 275.8L521.5 269.1L522.0 262.7L522.5 256.9L523.0 252.0L523.5 248.1L524.0 245.6L524.5 244.4L525.0 244.5L525.5 246.0L526.0 248.8L526.5 252.7L527.0 257.5L527.5 262.9L528.0 268.9L528.5 275.0L529.0 281.0L529.5 286.6L530.0 291.8L530.5 296.1L531.0 299.5L531.5 301.8L532.0 303.0L532.5 303.1L533.0 302.0L533.5 299.8L534.0 296.6L534.5 292.6L535.0 287.9L535.5 282.7L536.0 277.3L536.5 271.8L537.0 266.3L537.5 261.3L538.0 256.7L538.5 252.7L539.0 249.6L539.5 247.3L540.0 246.0L540.5 245.7L541.0 246.3L541.5 247.9L542.0 250.3L542.5 253.5L543.0 257.2L543.5 261.5L544.0 266.1L544.5 270.9L545.0 275.8L545.5 280.5L546.0 285.0L546.5 289.1L547.0 292.7L547.5 295.7L548.0 298.0L548.5 299.6L549.0 300.5L549.5 300.6L550.0 300.0L550.5 298.7L551.0 296.7L551.5 294.1L552.0 291.0L552.5 287.5L553.0 283.6L553.5 279.5L554.0 275.3L554.5 271.1L555.0 267.0L555.5 263.0L556.0 259.4L556.5 256.1L557.0 253.2L557.5 250.8L558.0 249.0L558.5 247.7L559.0 247.1L559.5 247.0L560.0 247.5L560.5 248.5L561.0 250.1L561.5 252.1L562.0 254.6L562.5 257.5L563.0 260.6L563.5 264.0L564.0 267.5L564.5 271.1L565.0 274.7L565.5 278.3L566.0 281.7L566.5 284.9L567.0 287.9L567.5 290.6L568.0 293.0L568.5 294.9L569.0 296.5L569.5 297.6L570.0 298.3L570.5 298.6L571.0 298.3L571.5 297.7L572.0 296.6L572.5 295.2L573.0 293.4L573.5 291.3L574.0 288.9L574.5 286.2L575.0 283.4L575.5 280.4L576.0 277.4L576.5 274.2L577.0 271.1L577.5 268.0L578.0 265.0L578.5 262.1L579.0 259.4L579.5 256.8L580.0 254.5L580.5 252.5L581.0 250.7L581.5 249.2L582.0 248.1L582.5 247.2L583.0 246.7L583.5 246.5L584.0 246.6L584.5 247.1L585.0 247.8L585.5 248.8L586.0 250.1L586.5 251.6L587.0 253.4L587.5 255.4L588.0 257.5L588.5 259.7L589.0 262.1L589.5 264.6L590.0 267.1L590.5 269.6L591.0 272.1L591.5 274.6L592.0 277.0L592.5 279.3L593.0 281.5L593.5 283.6L594.0 285.5L594.5 287.2L595.0 288.7L595.5 290.0L596.0 291.1L596.5 292.0L597.0 292.6L597.5 293.0L598.0 293.2L598.5 293.1L599.0 292.8L599.5 292.2L600.0 291.5L600.5 290.5L601.0 289.4L601.5 288.0L602.0 286.5L602.5 284.8L603.0 283.0L603.5 281.1L604.0 279.1L604.5 277.0L605.0 274.8L605.5 272.7L606.0 270.4L606.5 268.2L607.0 266.0L607.5 263.8L608.0 261.7L608.5 259.6L609.0 257.7L609.5 255.8L610.0 254.0" fill="none" stroke="#ff0000" stroke-width="3.5" stroke-linejoin="round"/>
<path d="M391.0 1153.0L397.0 1143.0L402.0 1144.0L407.0 1146.0L413.0 1145.0L419.0 1145.0" fill="none" stroke="#000000" stroke-width="4" stroke-linejoin="round"/>
<path d="M419.0 1145.0L419.0 330.0" fill="none" stroke="#808080" stroke-width="8" stroke-linejoin="round" stroke-dasharray="40.4 25.2" stroke-dashoffset="19"/>
<path d="M419.0 330.0L419.5 240.9L420.0 241.8L420.5 249.4L421.0 262.7L421.5 279.7L422.0 297.9L422.5 314.8L423.0 328.0L423.5 335.5L424.0 336.3L424.5 330.4L425.0 318.8L425.5 303.0L426.0 285.6L426.5 269.0L427.0 255.7L427.5 247.6L428.0 246.0L428.5 251.1L429.0 262.4L429.5 278.3L430.0 296.7L430.5 315.2L431.0 331.2L431.5 342.8L432.0 348.3L432.5 347.1L433.0 339.4L433.5 326.3L434.0 309.7L434.5 291.7L435.0 274.8L435.5 261.4L436.0 253.2L436.5 251.4L437.0 256.3L437.5 267.3L438.0 283.1L438.5 301.8L439.0 320.9L439.5 338.2L440.0 351.6L440.5 359.4L441.0 360.6L441.5 355.3L442.0 344.1L442.5 328.5L443.0 310.4L443.5 292.2L444.0 276.0L444.5 264.0L445.0 257.7L445.5 257.8L446.0 264.5L446.5 277.0L447.0 293.9L447.5 313.2L448.0 332.7L448.5 350.3L449.0 363.9L449.5 371.9L450.0 373.6L450.5 368.3L451.0 357.2L451.5 341.7L452.0 323.4L452.5 304.7L453.0 287.6L453.5 274.0L454.0 265.5L454.5 263.0L455.0 266.8L455.5 276.5L456.0 290.9L456.5 308.5L457.0 327.5L457.5 345.7L458.0 361.2L458.5 372.4L459.0 378.2L459.5 378.1L460.0 372.0L460.5 360.8L461.0 345.7L461.5 328.3L462.0 310.5L462.5 294.2L463.0 281.1L463.5 272.5L464.0 269.4L464.5 272.0L465.0 280.1L465.5 292.8L466.0 308.9L466.5 326.7L467.0 344.5L467.5 360.5L468.0 373.2L468.5 381.3L469.0 384.1L469.5 381.5L470.0 373.6L470.5 361.5L471.0 346.2L471.5 329.5L472.0 312.8L472.5 297.9L473.0 286.1L473.5 278.6L474.0 276.0L474.5 278.6L475.0 286.0L475.5 297.6L476.0 312.4L476.5 328.8L477.0 345.6L477.5 361.2L478.0 374.3L478.5 383.8L479.0 388.8L479.5 389.2L480.0 384.8L480.5 375.9L481.0 363.6L481.5 349.0L482.0 333.3L482.5 317.9L483.0 304.0L483.5 292.8L484.0 285.3L484.5 281.9L485.0 282.9L485.5 288.3L486.0 297.5L486.5 309.7L487.0 324.1L487.5 339.3L488.0 354.3L488.5 367.9L489.0 379.0L489.5 386.8L490.0 390.8L490.5 390.7L491.0 386.6L491.5 378.9L492.0 368.1L492.5 355.1L493.0 341.0L493.5 326.7L494.0 313.3L494.5 301.9L495.0 293.2L495.5 287.7L496.0 286.0L496.5 288.0L497.0 293.7L497.5 302.5L498.0 313.9L498.5 326.9L499.0 340.8L499.5 354.6L500.0 367.2L500.5 378.0L501.0 386.1L501.5 391.1L502.0 392.7L502.5 390.9L503.0 385.8L503.5 377.8L504.0 367.6L504.5 355.6L505.0 342.9L505.5 330.1L506.0 318.1L506.5 307.6L507.0 299.3L507.5 293.6L508.0 290.8L508.5 291.1L509.0 294.5L509.5 300.6L510.0 309.2L510.5 319.6L511.0 331.2L511.5 343.5L512.0 355.7L512.5 367.0L513.0 377.0L513.5 385.0L514.0 390.7L514.5 393.8L515.0 394.2L515.5 391.8L516.0 386.9L516.5 379.8L517.0 370.8L517.5 360.5L518.0 349.4L518.5 338.1L519.0 327.3L519.5 317.4L520.0 308.9L520.5 302.2L521.0 297.7L521.5 295.5L522.0 295.7L522.5 298.3L523.0 303.1L523.5 309.9L524.0 318.2L524.5 327.7L525.0 337.9L525.5 348.3L526.0 358.5L526.5 368.0L527.0 376.5L527.5 383.5L528.0 388.7L528.5 392.1L529.0 393.4L529.5 392.7L530.0 390.0L530.5 385.4L531.0 379.3L531.5 371.8L532.0 363.2L532.5 354.1L533.0 344.6L533.5 335.2L534.0 326.3L534.5 318.2L535.0 311.2L535.5 305.5L536.0 301.3L536.5 298.8L537.0 298.0L537.5 298.9L538.0 301.5L538.5 305.6L539.0 311.1L539.5 317.8L540.0 325.4L540.5 333.5L541.0 342.0L541.5 350.5L542.0 358.7L542.5 366.4L543.0 373.4L543.5 379.3L544.0 384.1L544.5 387.6L545.0 389.8L545.5 390.5L546.0 389.9L546.5 388.0L547.0 384.8L547.5 380.4L548.0 375.1L548.5 369.0L549.0 362.3L549.5 355.2L550.0 347.8L550.5 340.5L551.0 333.3L551.5 326.5L552.0 320.3L552.5 314.7L553.0 310.0L553.5 306.2L554.0 303.5L554.5 301.8L555.0 301.1L555.5 301.6L556.0 303.1L556.5 305.5L557.0 308.9L557.5 313.1L558.0 317.9L558.5 323.4L559.0 329.3L559.5 335.4L560.0 341.8L560.5 348.0L561.0 354.1L561.5 359.9L562.0 365.4L562.5 370.3L563.0 374.7L563.5 378.4L564.0 381.4L564.5 383.7L565.0 385.1L565.5 385.7L566.0 385.5L566.5 384.5L567.0 382.8L567.5 380.4L568.0 377.3L568.5 373.7L569.0 369.5L569.5 365.0L570.0 360.0L570.5 354.9L571.0 349.6L571.5 344.3L572.0 338.9L572.5 333.7L573.0 328.7L573.5 324.0L574.0 319.6L574.5 315.5L575.0 312.0L575.5 308.9L576.0 306.4L576.5 304.4L577.0 303.1L577.5 302.2L578.0 302.0L578.5 302.3L579.0 303.2L579.5 304.6L580.0 306.5L580.5 308.9L581.0 311.7L581.5 314.8L582.0 318.3L582.5 322.0L583.0 325.9L583.5 330.0L584.0 334.2L584.5 338.4L585.0 342.5L585.5 346.6L586.0 350.6L586.5 354.4L587.0 358.0L587.5 361.3L588.0 364.3L588.5 367.0L589.0 369.4L589.5 371.4L590.0 372.9L590.5 374.1L591.0 374.9L591.5 375.3L592.0 375.2L592.5 374.7L593.0 373.9L593.5 372.7L594.0 371.1L594.5 369.2L595.0 367.0L595.5 364.4L596.0 361.7L596.5 358.7L597.0 355.6L597.5 352.3L598.0 348.8L598.5 345.3L599.0 341.8L599.5 338.2L600.0 334.7L600.5 331.1L601.0 327.5L601.5 324.1L602.0 320.8L602.5 317.7L603.0 314.8L603.5 312.1L604.0 309.6L604.5 307.4L605.0 305.5L605.5 303.8L606.0 302.4L606.5 301.2L607.0 300.4L607.5 299.9L608.0 299.6L608.5 299.6L609.0 299.9L609.5 300.5L610.0 301.3L610.5 302.3L611.0 303.6L611.5 305.1L612.0 306.8L612.5 308.6L613.0 310.6L613.5 312.7L614.0 315.0L614.5 317.3L615.0 319.7L615.5 322.1L616.0 324.6L616.5 327.1L617.0 329.5L617.5 332.0L618.0 334.3L618.5 336.6L619.0 338.9L619.5 341.0L620.0 343.0L620.5 344.8L621.0 346.5L621.5 348.1L622.0 349.4L622.5 350.7L623.0 351.7L623.5 352.5L624.0 353.2L624.5 353.6L625.0 353.9L625.5 353.9L626.0 353.8L626.5 353.4L627.0 352.9L627.5 352.2L628.0 351.3L628.5 350.3L629.0 349.0L629.5 347.7L630.0 346.1L630.5 344.5L631.0 342.7L631.5 340.8L632.0 338.8L632.5 336.8L633.0 334.6L633.5 332.4L634.0 330.1L634.5 327.8L635.0 325.5L635.5 323.1L636.0 320.8L636.5 318.5L637.0 316.2L637.5 313.9L638.0 311.6L638.5 309.5L639.0 307.4L639.5 305.3L640.0 303.4L640.5 301.7L641.0 300.2L641.5 298.8L642.0 297.5L642.5 296.3L643.0 295.2L643.5 294.3L644.0 293.4L644.5 292.8L645.0 292.2L645.5 291.8L646.0 291.5L646.5 291.3L647.0 291.3L647.5 291.4L648.0 291.6L648.5 291.9L649.0 292.3L649.5 292.9L650.0 293.5L650.5 294.3L651.0 295.1L651.5 296.0L652.0 297.0L652.5 298.1L653.0 299.2L653.5 300.4L654.0 301.7L654.5 303.0L655.0 304.3L655.5 305.7L656.0 307.1L656.5 308.5L657.0 309.9L657.5 311.3L658.0 312.7L658.5 314.1L659.0 315.5L659.5 316.8L660.0 318.2L660.5 319.5L661.0 320.7L661.5 321.9L662.0 323.1L662.5 324.2L663.0 325.2L663.5 326.2L664.0 327.1L664.5 328.0L665.0 328.7L665.5 329.4L666.0 330.1L666.5 330.6L667.0 331.1L667.5 331.5L668.0 331.8L668.5 332.1L669.0 332.3L669.5 332.4L670.0 332.4L670.5 332.3L671.0 332.2L671.5 332.0L672.0 331.8L672.5 331.4L673.0 331.0L673.5 330.6L674.0 330.1L674.5 329.5L675.0 328.9L675.5 328.2L676.0 327.5L676.5 326.8L677.0 326.0L677.5 325.1L678.0 324.3L678.5 323.4L679.0 322.5L679.5 321.6L680.0 320.7L680.5 319.7L681.0 318.8L681.5 317.8L682.0 316.8L682.5 315.9L683.0 315.0L683.5 314.0L684.0 313.1L684.5 312.2L685.0 311.3L685.5 310.5L686.0 309.6L686.5 308.8L687.0 308.0L687.5 307.3L688.0 306.6L688.5 305.9L689.0 305.2L689.5 304.6L690.0 304.0" fill="none" stroke="#404040" stroke-width="3.6" stroke-linejoin="round" stroke-dasharray="42 23"/>
<path d="M419.0 218.0L423.0 224.0L427.0 230.0L432.0 237.0L445.0 238.0L455.0 236.0L462.0 229.0L468.0 222.0L468.0 327.0L457.0 327.0L455.0 347.0L442.0 347.0L440.0 320.0L425.0 318.0L419.0 316.0Z" fill="#000" stroke="none"/>
<path d="M699.6 326.4L713.0 296.6L716.0 288.0M716.0 288.0L721.8 292.7L728.5 306.0L734.3 317.7L738.0 327.4L743.0 340.0L746.0 360.0L748.0 377.0L750.0 360.0L753.5 320.0L756.0 290.0L759.3 269.6L764.7 243.5L770.4 251.2L778.0 255.0L784.0 266.6L787.5 290.0M787.5 321.0L790.5 363.0M791.0 386.0L795.0 442.0M794.5 452.0L796.5 479.0L798.0 470.0M800.5 442.0L801.0 398.0M802.0 376.0L802.5 333.0M816.7 243.4L824.0 209.0M845.6 209.0L857.0 241.5M865.0 267.0L874.0 312.0M883.6 334.5L889.3 369.0M894.5 398.0L901.3 435.0M904.0 463.0L909.7 500.0M915.0 528.0L918.0 566.0M924.5 593.0L930.0 627.0M931.7 658.0L937.3 694.6M941.0 724.0L943.0 759.0M948.6 787.0L952.0 825.0M957.6 853.0L959.7 890.0M965.0 916.6L967.0 954.7M971.7 982.8L972.7 1008.8M976.5 1037.0L978.2 1069.0" fill="none" stroke="#000000" stroke-width="4" stroke-linejoin="round"/>
<path d="M980.5 1099.0L984.0 1130.0L986.5 1150.0M988.0 1140.0L991.0 1110.0L994.0 1150.0L997.0 1155.0L1000.0 1117.0M1002.0 1125.0L1008.0 1115.0L1015.0 1106.0M1025.5 1123.0L1030.0 1142.4L1034.0 1120.0L1038.2 1099.0M1045.0 1082.5L1052.0 1088.0L1060.0 1091.5M1070.4 1102.0L1078.0 1139.4M1087.0 1136.4L1096.0 1145.4M1108.0 1127.4L1112.4 1115.4L1117.0 1123.0L1124.4 1132.0L1129.0 1147.0M1133.4 1172.0L1137.0 1200.0L1139.4 1210.0M1140.0 1205.0L1144.0 1175.0L1147.0 1160.0M1152.9 1138.0L1154.4 1126.0L1161.8 1133.4L1168.0 1130.0L1173.8 1124.4M1178.3 1111.0L1190.3 1091.4M1202.3 1066.0L1211.3 1100.4M1215.8 1127.4L1219.0 1142.0L1221.8 1153.0M1226.0 1137.0L1230.8 1129.0L1239.8 1117.0M1249.5 1080.0L1250.0 1051.0M1252.0 1025.0L1256.0 1008.0L1262.0 1001.6L1268.7 1015.0M1275.0 1046.0L1289.0 1022.0M1297.0 1021.0L1316.0 1027.0M1322.5 1052.0L1327.0 1080.0M1330.0 1090.0L1333.0 1101.0L1338.0 1070.0M1343.4 1046.0L1360.0 1047.4M1363.0 1074.4L1365.0 1100.0L1367.4 1121.0M1370.0 1110.0L1375.0 1093.0L1385.0 1092.0L1395.0 1088.0L1402.0 1083.0M1407.0 1087.0L1412.0 1100.0L1417.0 1116.0M1419.0 1124.5L1429.5 1129.0L1437.0 1146.0M1443.0 1172.4L1449.7 1198.0M1456.4 1157.4L1466.2 1186.0M1468.4 1198.0L1472.2 1226.4M1473.7 1243.0L1479.0 1259.4M1486.4 1247.4L1495.4 1223.4L1510.4 1243.0M1527.0 1247.4L1531.0 1265.0L1536.0 1288.0" fill="none" stroke="#000000" stroke-width="4" stroke-linejoin="round"/>
<path d="M1541.0 1311.0L1544.0 1326.0L1544.0 1333.4L1546.0 1321.1L1548.0 1338.4L1550.0 1327.8L1552.0 1344.4L1554.0 1328.4L1556.0 1343.5L1558.0 1332.8L1560.0 1345.1L1562.0 1333.9L1564.0 1346.8L1566.0 1335.1L1568.0 1348.9L1570.0 1335.1L1572.0 1348.2L1574.0 1333.4L1576.0 1345.3L1578.0 1334.6L1580.0 1350.4L1582.0 1341.1L1584.0 1356.4L1586.0 1346.3L1588.0 1361.8L1590.0 1350.9L1592.0 1363.9L1594.0 1350.8L1596.0 1364.9L1598.0 1354.5L1600.0 1365.8L1602.0 1351.7L1604.0 1367.0L1606.0 1352.2L1608.0 1366.0L1610.0 1351.3L1612.0 1363.8L1614.0 1353.2L1616.0 1364.1L1618.0 1351.5L1620.0 1362.7L1622.0 1352.2L1624.0 1362.3L1626.0 1351.3L1628.0 1361.4L1630.0 1351.5L1632.0 1361.5L1634.0 1349.7L1636.0 1361.0L1638.0 1350.4L1640.0 1359.1L1642.0 1349.1L1644.0 1357.8L1646.0 1348.8L1648.0 1357.4L1650.0 1348.2L1652.0 1355.7L1654.0 1345.6L1656.0 1354.2L1658.0 1342.8L1660.0 1352.1L1662.0 1341.0L1664.0 1349.3L1666.0 1339.5L1668.0 1347.9L1670.0 1338.5L1672.0 1346.6L1674.0 1337.6L1676.0 1344.7L1678.0 1336.7L1680.0 1344.7L1682.0 1334.6L1684.0 1341.9L1686.0 1331.7L1688.0 1339.8L1690.0 1330.0L1692.0 1337.3L1694.0 1328.7L1696.0 1334.1L1698.0 1326.4L1700.0 1332.0L1702.0 1324.5L1704.0 1329.7L1706.0 1321.7L1708.0 1327.8L1710.0 1319.5L1712.0 1327.1L1714.0 1319.0L1716.0 1325.6L1718.0 1318.3L1720.0 1324.3L1722.0 1316.1L1724.0 1322.4L1726.0 1315.4L1728.0 1320.9L1730.0 1313.5L1732.0 1318.7L1734.0 1311.7L1736.0 1316.7L1738.0 1310.8L1740.0 1314.7" fill="none" stroke="#000000" stroke-width="4" stroke-linejoin="round"/>
<path d="M1738.0 1310.8L1740.0 1314.7L1742.0 1309.3L1744.0 1312.4L1746.0 1307.1L1748.0 1311.6L1750.0 1305.6L1752.0 1310.3L1754.0 1304.8L1756.0 1308.0L1758.0 1303.6L1760.0 1307.5L1762.0 1302.0L1764.0 1305.7L1766.0 1301.1L1768.0 1304.0L1770.0 1300.1L1772.0 1302.5L1774.0 1298.1L1776.0 1301.7L1778.0 1297.7L1780.0 1300.4L1782.0 1296.8L1784.0 1299.1L1786.0 1295.2L1788.0 1298.3L1790.0 1294.4L1792.0 1297.0L1794.0 1293.5L1796.0 1296.7L1798.0 1293.0L1800.0 1295.1L1802.0 1292.5L1804.0 1294.3L1806.0 1291.2L1808.0 1294.1L1810.0 1291.0L1812.0 1293.4L1814.0 1291.1L1826.0 1289.3L1854.0 1288.2L1863.0 1287.0L1883.0 1288.2L1892.0 1286.0L1916.0 1286.0L1920.0 1284.8L1952.0 1283.7L1957.0 1282.6L1978.0 1282.6L1990.0 1281.5L2007.0 1281.5L2011.0 1280.4L2035.0 1279.8" fill="none" stroke="#000000" stroke-width="4" stroke-linejoin="round" stroke-dasharray="26 8"/>
</g>
<defs><clipPath id="clipax"><rect x="253" y="51.5" width="1780" height="1364"/></clipPath></defs>
<g stroke="#262626" stroke-width="4" fill="none">
<rect x="253" y="51.5" width="1780" height="1364.1"/>
<line x1="845" y1="1415.6" x2="845" y2="1399" /><line x1="845" y1="51.5" x2="845" y2="68" /><line x1="1441" y1="1415.6" x2="1441" y2="1399" /><line x1="1441" y1="51.5" x2="1441" y2="68" /><line x1="253" y1="322" x2="269" y2="322" /><line x1="2033" y1="322" x2="2017" y2="322" /><line x1="253" y1="596.2" x2="269" y2="596.2" /><line x1="2033" y1="596.2" x2="2017" y2="596.2" /><line x1="253" y1="870.7" x2="269" y2="870.7" /><line x1="2033" y1="870.7" x2="2017" y2="870.7" /><line x1="253" y1="1145" x2="269" y2="1145" /><line x1="2033" y1="1145" x2="2017" y2="1145" />
</g>
<g font-size="80" text-anchor="end">
<text x="229.8" y="77.6">20</text>
<text x="226" y="352.5">0</text>
<text x="226" y="626.7">-20</text>
<text x="226" y="896.8">-40</text>
<text x="226" y="1171.5">-60</text>
<text x="226" y="1445.8">-80</text>
</g>
<g font-size="80" text-anchor="middle">
<text x="253" y="1516.5">1000</text>
<text x="850" y="1516">1500</text>
<text x="1439.5" y="1516">2000</text>
<text x="2036" y="1516">2500</text>
</g>
<text x="1141" y="1622" font-size="86.5" text-anchor="middle">Propagation distance(m)</text>
<text transform="translate(86,872) rotate(-90) scale(1.15,1)" font-size="86">&#916;</text>
<text transform="translate(86,788) rotate(-90)" font-size="80">L(dB)</text>
<g>
<rect x="454.5" y="1039" width="336.8" height="347.5" fill="#fff" stroke="#262626" stroke-width="4"/>
<line x1="468.6" y1="1087.6" x2="596" y2="1087.6" stroke="#f00" stroke-width="4"/>
<line x1="468.6" y1="1170" x2="596" y2="1170" stroke="#00f" stroke-width="4" stroke-dasharray="36 10 11 10"/>
<line x1="468.6" y1="1255.4" x2="596" y2="1255.4" stroke="#000" stroke-width="4"/>
<line x1="468.6" y1="1337.6" x2="596" y2="1337.6" stroke="#000" stroke-width="4" stroke-dasharray="45 21"/>
<g font-size="74" letter-spacing="-2" class="lg">
<text x="603" y="1109.6">Case1</text>
<text x="603" y="1196.1">Case2</text>
<text x="603" y="1278">Case3</text>
<text x="603" y="1363.7">Case4</text>
</g>
</g>
</svg>
</body></html>
